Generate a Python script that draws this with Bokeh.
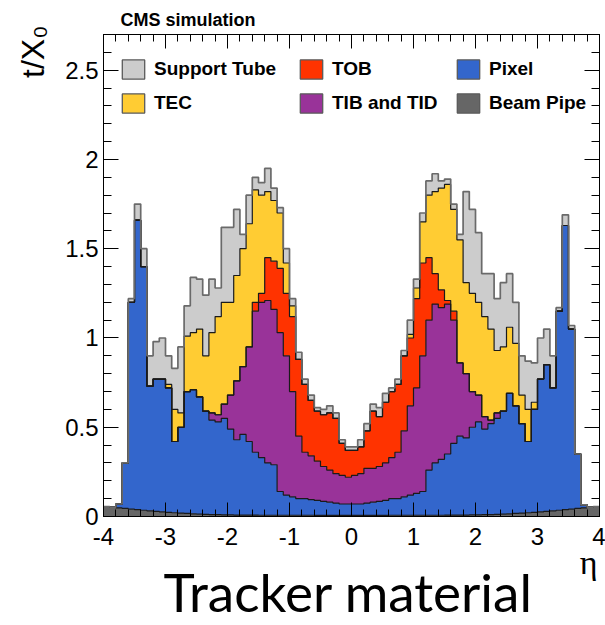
import numpy as np
from bokeh.plotting import figure
from bokeh.models import Range1d, LinearAxis, FixedTicker, Legend, LegendItem, Title
from bokeh.embed import file_html
from bokeh.resources import INLINE

# eta binning of the histogram (80 bins of width 0.1 from -4 to 4)
eta_edges = np.linspace(-4.0, 4.0, 81)

# cumulative (stacked) upper edge of each component, t/X0, one value per bin
beam_pipe_top = [
    .056, .052, .048, .045, .041, .038, .035, .032, .029, .026,
    .023, .021, .019, .017, .015, .013, .012, .011, .010, .009,
    .009, .008, .008, .008, .008, .007, .007, .007, .007, .007,
    .007, .007, .007, .007, .006, .006, .006, .006, .006, .006,
    .006, .006, .006, .006, .006, .006, .007, .007, .007, .007,
    .007, .007, .007, .007, .007, .008, .008, .008, .008, .009,
    .009, .010, .011, .012, .013, .015, .017, .019, .021, .023,
    .026, .029, .032, .035, .038, .041, .045, .048, .052, .056]
pixel_top = [
    .056, .052, .070, .300, 1.20, 1.66, 1.40, .73, .77, .77,
    .72, .42, .50, .70, .71, .67, .59, .54, .53, .55,
    .49, .43, .46, .42, .36, .33, .30, .29, .14, .12,
    .11, .10, .10, .095, .09, .085, .08, .075, .07, .07,
    .07, .07, .075, .08, .085, .09, .10, .10, .11, .12,
    .13, .14, .26, .30, .32, .35, .41, .45, .44, .50,
    .53, .49, .52, .55, .59, .69, .62, .52, .42, .60,
    .77, .85, .72, 1.15, 1.63, 1.05, .35, .065, .052, .056]
tib_tid_top = [
    .056, .052, .070, .300, 1.20, 1.66, 1.40, .73, .77, .77,
    .72, .42, .50, .70, .71, .67, .59, .58, .57, .63,
    .68, .76, .84, .95, 1.15, 1.20, 1.21, 1.16, 1.03, .90,
    .70, .45, .36, .34, .31, .28, .26, .24, .23, .22,
    .23, .24, .27, .27, .28, .30, .33, .36, .48, .62,
    .72, .90, 1.10, 1.19, 1.17, 1.19, 1.10, .86, .80, .70,
    .68, .56, .54, .58, .59, .69, .62, .52, .42, .60,
    .77, .85, .72, 1.15, 1.63, 1.05, .35, .065, .052, .056]
tob_top = [
    .056, .052, .070, .300, 1.20, 1.66, 1.40, .73, .77, .77,
    .72, .42, .50, .70, .71, .67, .59, .58, .57, .63,
    .68, .76, .84, .95, 1.20, 1.25, 1.45, 1.43, 1.39, 1.25,
    1.12, .88, .74, .65, .59, .57, .58, .55, .41, .37,
    .37, .39, .48, .59, .56, .64, .70, .74, .90, 1.00,
    1.22, 1.42, 1.45, 1.36, 1.27, 1.21, 1.15, .86, .80, .70,
    .68, .56, .54, .58, .59, .69, .62, .52, .42, .60,
    .77, .85, .72, 1.15, 1.63, 1.05, .35, .065, .052, .056]
tec_top = [
    .056, .052, .070, .300, 1.20, 1.66, 1.40, .73, .77, .77,
    .74, .60, .58, 1.01, 1.03, 1.05, .90, 1.03, 1.12, 1.20,
    1.20, 1.35, 1.50, 1.64, 1.83, 1.80, 1.82, 1.77, 1.70, 1.42,
    1.18, .88, .74, .65, .59, .57, .58, .55, .41, .37,
    .37, .39, .48, .59, .56, .64, .70, .74, .90, 1.02,
    1.28, 1.65, 1.80, 1.82, 1.84, 1.86, 1.72, 1.55, 1.31, 1.25,
    1.20, 1.12, 1.05, .93, .95, 1.06, .97, .68, .60, .64,
    .77, .85, .72, 1.15, 1.63, 1.05, .35, .065, .052, .056]
support_tube_top = [
    .056, .052, .070, .300, 1.22, 1.75, 1.50, .90, .98, 1.00,
    .90, .83, .95, 1.18, 1.34, 1.33, 1.24, 1.33, 1.28, 1.62,
    1.62, 1.72, 1.58, 1.80, 1.90, 1.87, 1.95, 1.84, 1.73, 1.50,
    1.22, .92, .77, .68, .61, .60, .62, .58, .43, .39,
    .39, .43, .52, .63, .61, .69, .72, .77, .93, 1.10,
    1.33, 1.70, 1.88, 1.92, 1.88, 1.89, 1.75, 1.58, 1.82, 1.72,
    1.59, 1.36, 1.36, 1.22, 1.31, 1.36, 1.20, .90, .87, .86,
    1.00, 1.05, .90, 1.17, 1.69, 1.07, .35, .065, .052, .056]

component_names = ["Beam Pipe", "Pixel", "TIB and TID", "TOB", "TEC", "Support Tube"]
component_colors = ["#666666", "#3366cc", "#993399", "#ff3300", "#ffcc33", "#cccccc"]
legend_columns = [["Support Tube", "TEC"], ["TOB", "TIB and TID"], ["Pixel", "Beam Pipe"]]

x_ticks = [-4, -3, -2, -1, 0, 1, 2, 3, 4]
x_tick_labels = ["-4", "-3", "-2", "-1", "0", "1", "2", "3", "4"]
y_ticks = [0, 0.5, 1, 1.5, 2, 2.5]
y_tick_labels = ["0", "0.5", "1", "1.5", "2", "2.5"]

tops = np.maximum.accumulate(np.array([beam_pipe_top, pixel_top, tib_tid_top,
                                       tob_top, tec_top, support_tube_top]), axis=0)

FONT = "Liberation Sans"

p = figure(width=605, height=625, x_range=Range1d(-4, 4), y_range=Range1d(0, 2.7),
           output_backend="svg", toolbar_location=None,
           min_border_left=101, min_border_right=6, min_border_top=34, min_border_bottom=109)
p.xgrid.visible = False
p.ygrid.visible = False
p.outline_line_color = "black"
p.outline_line_width = 1
p.background_fill_color = "white"
p.border_fill_color = "white"

# stacked fills
prev = np.zeros(len(eta_edges) - 1)
for k in range(len(component_names)):
    top = tops[k]
    p.varea_step(x=eta_edges, y1=np.append(prev, prev[-1]), y2=np.append(top, top[-1]),
                 step_mode="after", fill_color=component_colors[k], fill_alpha=1.0)
    prev = top

# outlines
for k in range(len(component_names)):
    top = tops[k]
    is_tube = component_names[k] == "Support Tube"
    p.step(x=eta_edges, y=np.append(top, top[-1]), mode="after",
           line_color="#6a6a6a" if is_tube else "#1a1a1a",
           line_width=1.7 if is_tube else 1.2)

# legend swatch renderers (no visible data)
legend_renderers = {}
for name, color in zip(component_names, component_colors):
    legend_renderers[name] = p.quad(left=[np.nan], right=[np.nan], top=[np.nan], bottom=[np.nan],
                                    fill_color=color, line_color="#5a5a5a", line_width=1.3)

for names, x0 in zip(legend_columns, [16, 194, 351]):
    leg = Legend(items=[LegendItem(label=n, renderers=[legend_renderers[n]]) for n in names],
                 location=(x0, 401), orientation="vertical",
                 background_fill_alpha=0, border_line_alpha=0,
                 glyph_width=28, glyph_height=24, label_height=24,
                 label_text_font=FONT, label_text_font_style="bold", label_text_font_size="19px",
                 label_text_color="black",
                 label_standoff=7, spacing=10, padding=0, margin=0)
    p.add_layout(leg)

# axes styling
def style_axis(ax, ticker, ticks, labels=None, major_len=14, minor_len=7):
    ax.ticker = ticker
    ax.major_tick_in = major_len
    ax.major_tick_out = 0
    ax.minor_tick_in = minor_len
    ax.minor_tick_out = 0
    ax.axis_line_color = "black"
    ax.major_tick_line_color = "black"
    ax.minor_tick_line_color = "black"
    if labels is not None:
        ax.major_label_text_font = FONT
        ax.major_label_text_font_size = "24px"
        ax.major_label_text_color = "black"
        ax.major_label_overrides = {v: s for v, s in zip(ticks, labels)}
    else:
        # mirrored ticks only (ROOT style frame), no labels
        ax.major_label_overrides = {v: "" for v in ticks}
        ax.major_label_text_font_size = "1px"
        ax.major_label_standoff = 0

xt = FixedTicker(ticks=x_ticks, minor_ticks=list(np.round(np.arange(-4, 4.001, 0.2), 2)))
yt = FixedTicker(ticks=y_ticks, minor_ticks=list(np.round(np.arange(0, 2.701, 0.1), 2)))

style_axis(p.xaxis[0], xt, x_ticks, x_tick_labels, 14, 7)
p.xaxis[0].major_label_standoff = 11
style_axis(p.yaxis[0], yt, y_ticks, y_tick_labels, 15, 8)
p.yaxis[0].major_label_standoff = 5

top_axis = LinearAxis()
style_axis(top_axis, xt, x_ticks, None, 14, 7)
p.add_layout(top_axis, "above")
right_axis = LinearAxis()
style_axis(right_axis, yt, y_ticks, None, 15, 8)
p.add_layout(right_axis, "right")

# titles around the frame
p.add_layout(Title(text="CMS simulation", align="left", offset=17, standoff=10,
                   text_font=FONT, text_font_style="bold", text_font_size="18px",
                   text_color="black"), "above")
p.add_layout(Title(text="t/X\u2080", align="right", offset=-9, standoff=24,
                   text_font=FONT, text_font_style="normal", text_font_size="32px",
                   text_color="black"), "left")
p.add_layout(Title(text="\u03b7", align="right", offset=2, standoff=-12,
                   text_font="Liberation Serif", text_font_style="normal", text_font_size="34px",
                   text_color="black"), "below")
p.add_layout(Title(text="Tracker material", align="left", offset=60, standoff=-33,
                   text_font="Lato", text_font_style="normal", text_font_size="53px",
                   text_color="black"), "below")

open("out.html", "w").write(file_html(p, INLINE))
